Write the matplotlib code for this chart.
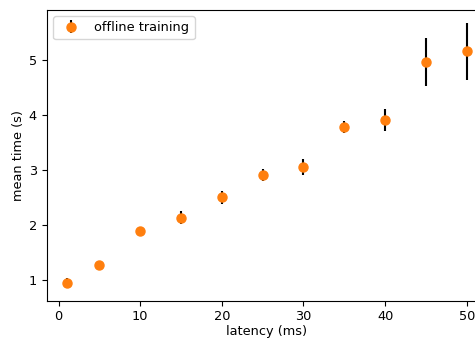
import matplotlib
matplotlib.use("Agg")
import matplotlib.pyplot as plt

latency_ms = [1, 5, 10, 15, 20, 25, 30, 35, 40, 45, 50]
mean_time_s = [0.95, 1.26, 1.89, 2.13, 2.50, 2.91, 3.05, 3.775, 3.90, 4.956, 5.156]
std_time_s = [0.09, 0.05, 0.07, 0.12, 0.12, 0.11, 0.15, 0.115, 0.20, 0.436, 0.515]

plt.rcParams["font.size"] = 9.3

fig = plt.figure(figsize=(4.75, 3.4), dpi=100)
ax = fig.add_axes([0.0983, 0.1156, 0.9265, 0.856])

ax.errorbar(latency_ms, mean_time_s, yerr=std_time_s, fmt="o", markersize=6.5,
            color="C1", ecolor="black", label="offline training")
ax.set_xlabel("latency (ms)", labelpad=1)
ax.set_ylabel("mean time (s)", labelpad=2.5)
ax.legend(loc="upper left")

fig.savefig("out.png", dpi=100)
